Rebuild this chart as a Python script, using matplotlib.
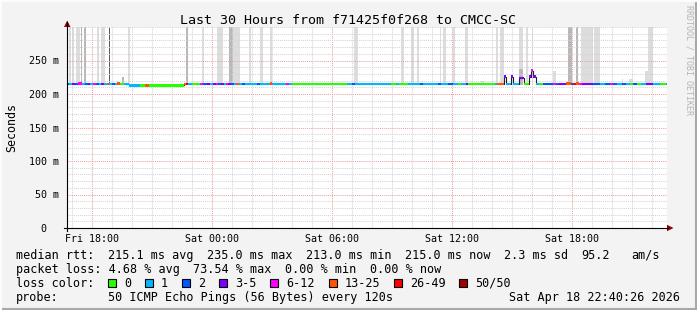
import re
import matplotlib
matplotlib.use('Agg')
import matplotlib.pyplot as plt
from matplotlib.ticker import MultipleLocator
from matplotlib.patches import Polygon, Rectangle
from matplotlib.lines import Line2D

W, H = 697, 310

# ---- median rtt, one entry per step (hours since Fri 00:00, ms, loss class) ----
seg_start = [16.75, 16.85, 17.00, 17.15, 17.30, 17.50, 17.65, 17.80, 17.90, 18.05,
             18.20, 18.35, 18.45, 18.60, 18.75, 18.85, 19.00, 19.15, 19.25, 19.40,
             19.60, 19.85, 20.40, 20.65, 20.85, 22.60, 22.70, 22.80, 23.00, 23.40,
             23.55, 23.75, 23.90, 24.05, 24.20, 24.30, 24.45, 24.60, 24.70, 24.80,
             24.95, 25.10, 25.20, 25.35, 25.50, 25.65, 26.25, 26.40, 26.90, 27.00,
             27.70, 27.85, 28.00, 30.75, 31.00, 31.15, 32.95, 33.20, 33.35, 33.80,
             34.40, 34.55, 35.30, 35.45, 35.80, 36.05, 36.30, 36.45, 36.70, 36.80,
             38.15, 38.25, 38.60, 38.70, 38.95, 39.05, 39.35, 39.60, 39.85, 39.95,
             40.05, 40.20, 40.35, 40.55, 41.05, 41.20, 41.35, 41.70, 41.95, 42.05,
             42.20, 42.35, 42.50, 43.05, 43.40, 43.65, 43.90, 44.05, 44.25, 44.50,
             44.70, 44.90, 45.05, 45.25, 45.45, 45.70, 46.05, 46.40, 46.70]
seg_rtt = [215, 215, 215, 215, 216, 215, 215, 215, 215, 215,
           215, 215, 215, 215, 215, 215, 215, 215, 216, 215,
           215, 213, 213, 213, 213, 215, 215, 215, 215, 215,
           215, 215, 215, 215, 215, 215, 215, 215, 215, 215,
           215, 215, 215, 215, 215, 215, 215, 215, 216, 215,
           215, 215, 215, 215, 215, 215, 215, 215, 215, 215,
           215, 215, 215, 215, 215, 215, 215, 215, 215, 215,
           215, 215, 226, 215, 226, 215, 224, 215, 226, 235,
           226, 215, 215, 215, 215, 215, 215, 216, 215, 215,
           216, 215, 215, 215, 215, 215, 215, 215, 215, 215,
           215, 215, 215, 215, 215, 215, 215, 215, 215]
seg_loss = ['2', '1', '3-5', '2', '6-12', '1', '2', '3-5', '1', '6-12',
            '2', '1', '3-5', '1', '13-25', '1', '2', '1', '13-25', '0',
            '1', '1', '0', '13-25', '0', '13-25', '26-49', '1', '0', '6-12',
            '2', '3-5', '1', '3-5', '6-12', '2', '3-5', '1', '6-12', '3-5',
            '2', '1', '13-25', '1', '2', '1', '2', '1', '13-25', '1',
            '6-12', '1', '0', '1', '2', '1', '0', '1', '0', '1',
            '2', '1', '2', '1', '2', '1', '0', '1', '3-5', '0',
            '1', '13-25', '3-5', '1', '3-5', '1', '3-5', '0', '3-5', '6-12',
            '3-5', '1', '0', '2', '6-12', '2', '3-5', '13-25', '2', '26-49',
            '13-25', '6-12', '3-5', '2', '1', '2', '6-12', '2', '1', '2',
            '1', '0', '2', '0', '1', '3-5', '1', '0', '1']
t_end = 46.75

# ---- smoke: spread of the pings (start h, end h, top ms, shade level) ----
smoke_t0 = [16.85, 17.00, 17.20, 17.45, 17.60, 18.25, 18.45, 18.85, 19.50, 19.80,
            22.70, 23.50, 24.25, 24.85, 25.05, 25.85, 26.40, 26.90, 31.10, 33.45,
            33.95, 34.25, 35.40, 35.55, 36.05, 36.65, 37.45, 38.20, 38.40, 39.35,
            39.35, 39.70, 40.00, 41.05, 41.80, 41.90, 42.20, 42.45, 43.10, 44.50,
            44.85, 45.65, 45.80]
smoke_t1 = [16.93, 17.10, 17.40, 17.50, 17.70, 18.35, 18.65, 18.90, 19.60, 19.90,
            22.80, 23.60, 24.55, 25.05, 25.40, 25.95, 26.55, 27.00, 31.30, 33.60,
            34.10, 34.35, 35.45, 35.70, 36.15, 36.80, 37.60, 38.30, 38.60, 39.55,
            39.55, 39.80, 40.05, 41.20, 41.88, 42.00, 42.30, 43.05, 43.40, 44.55,
            45.05, 45.80, 46.05]
smoke_top = [330, 330, 330, 330, 330, 330, 330, 330, 226, 330,
             330, 330, 330, 330, 330, 330, 330, 330, 330, 330,
             330, 330, 330, 330, 330, 330, 220, 330, 330, 330,
             238, 330, 330, 235, 330, 330, 330, 330, 330, 222,
             222, 235, 330]
smoke_level = [1, 1, 1, 2, 2, 1, 1, 3, 2, 1,
               2, 1, 1, 2, 1, 1, 1, 1, 1, 1,
               1, 1, 1, 1, 1, 1, 1, 1, 1, 1,
               2, 1, 1, 1, 2, 2, 2, 1, 1, 1,
               1, 1, 1]

loss_labels = ['0', '1', '2', '3-5', '6-12', '13-25', '26-49', '50/50']
loss_colors = ['#26ff00', '#00b8ff', '#0059ff', '#7e00ff',
               '#ff00ff', '#ff5500', '#ff0000', '#a10000']
smoke_colors = {1: '#dddddd', 2: '#b8b8b8', 3: '#5a5a5a'}

x_ticks = [18, 24, 30, 36, 42]
x_ticklabels = ['Fri 18:00', 'Sat 00:00', 'Sat 06:00', 'Sat 12:00', 'Sat 18:00']
y_ticks = [0, 50, 100, 150, 200, 250]
y_ticklabels = ['0  ', '50 m', '100 m', '150 m', '200 m', '250 m']

title = 'Last 30 Hours from f71425f0f268 to CMCC-SC'
rtt_line = ('median rtt:  215.1 ms avg  235.0 ms max  213.0 ms min  '
            '215.0 ms now  2.3 ms sd  95.2   am/s')
loss_line = 'packet loss: 4.68 % avg  73.54 % max  0.00 % min  0.00 % now'
probe_line = 'probe:       50 ICMP Echo Pings (56 Bytes) every 120s'
stamp = 'Sat Apr 18 22:40:26 2026'

MONO = 'DejaVu Sans Mono'
CW = 7.07  # legend char advance in px


def fx(x):
    return x / W


def fy(y):
    return 1 - y / H


fig = plt.figure(figsize=(W / 100, H / 100), dpi=100, facecolor='#f3f3f3')
ax = fig.add_axes([fx(67), fy(228), 600 / W, 201 / H])
ax.set_facecolor('white')
ax.set_xlim(16.75, t_end)
ax.set_ylim(0, 300)

# smoke
ax.bar(smoke_t0, [t - 213 for t in smoke_top],
       width=[b - a for a, b in zip(smoke_t0, smoke_t1)], bottom=213,
       align='edge', color=[smoke_colors[l] for l in smoke_level],
       linewidth=0, zorder=1)

# median line and loss coloured band
ax.step(seg_start + [t_end], seg_rtt + [seg_rtt[-1]], where='post',
        color='#202020', lw=0.8, zorder=3.5)
widths = [b - a for a, b in zip(seg_start, seg_start[1:] + [t_end])]
band = 4.0
cmap = dict(zip(loss_labels, loss_colors))
ax.bar(seg_start, band, width=widths, bottom=[r - band / 2 for r in seg_rtt],
       align='edge', color=[cmap[l] for l in seg_loss], linewidth=0, zorder=4)

# grid
ax.xaxis.set_major_locator(MultipleLocator(6))
ax.xaxis.set_minor_locator(MultipleLocator(1))
ax.yaxis.set_major_locator(MultipleLocator(50))
ax.yaxis.set_minor_locator(MultipleLocator(10))
ax.grid(which='minor', color='#d4d4d4', ls=(0, (1, 1)), lw=0.75, zorder=2.5)
ax.grid(which='major', color='#f0a0a0', ls=(0, (1, 1)), lw=0.75, zorder=2.6)

ax.set_xticks(x_ticks, x_ticklabels, family=MONO, fontsize=7.2)
ax.set_yticks(y_ticks, y_ticklabels, family=MONO, fontsize=7.2)
ax.tick_params(which='both', length=0, colors='#000000')
ax.tick_params(axis='x', pad=4.2)
ax.tick_params(axis='y', pad=5.6)
for s in ax.spines.values():
    s.set_visible(False)

# axis lines with arrows
fig.add_artist(Line2D([fx(64), fx(668)], [fy(228), fy(228)], color='black', lw=0.8))
fig.add_artist(Line2D([fx(67), fx(67)], [fy(231), fy(22)], color='black', lw=0.8))
fig.add_artist(Polygon([(fx(64), fy(27)), (fx(70.5), fy(27)), (fx(67.2), fy(20.5))],
                       closed=True, color='#8b0000', lw=0))
fig.add_artist(Polygon([(fx(667), fy(224.8)), (fx(667), fy(231.2)), (fx(673.5), fy(228))],
                       closed=True, color='#8b0000', lw=0))

# texts
fig.text(fx(347.5), fy(24), title, family=MONO, fontsize=9.6, ha='center', va='baseline')
fig.text(fx(11.5), fy(127.5), 'Seconds', family=MONO, fontsize=8.4, rotation=90,
         ha='center', va='center')
fig.text(fx(689), fy(5), 'RRDTOOL / TOBI OETIKER', family=MONO, fontsize=6,
         rotation=270, ha='center', va='top', color='#b4b4b4')


def mono_line(s, y):
    for m in re.finditer(r'\S+(?: \S+)*', s):
        fig.text(fx(16 + m.start() * CW), fy(y), m.group(), family=MONO,
                 fontsize=8.45, ha='left', va='baseline')


mono_line(rtt_line, 259)
mono_line(loss_line, 273)
mono_line('loss color:', 287)
mono_line(probe_line, 301)
fig.text(fx(680), fy(301), stamp, family=MONO, fontsize=8.45, ha='right', va='baseline')

x = 108
for lab, col in zip(loss_labels, loss_colors):
    fig.add_artist(Rectangle((fx(x), fy(286.5)), 8 / W, 8 / H, facecolor=col,
                             edgecolor='black', lw=0.8))
    fig.text(fx(x + 16), fy(287), lab, family=MONO, fontsize=8.45, ha='left', va='baseline')
    x += 16 + CW * len(lab) + 14

# frame
fig.add_artist(Line2D([fx(0), fx(697)], [fy(309), fy(309)], color='#a8a8a8', lw=1.5))
fig.add_artist(Line2D([fx(696), fx(696)], [fy(0), fy(310)], color='#a8a8a8', lw=1.5))
fig.add_artist(Line2D([fx(0), fx(697)], [fy(0.5), fy(0.5)], color='#fcfcfc', lw=1.5))
fig.add_artist(Line2D([fx(0.5), fx(0.5)], [fy(0), fy(310)], color='#fcfcfc', lw=1.5))

fig.savefig('out.png', dpi=100, facecolor=fig.get_facecolor())
